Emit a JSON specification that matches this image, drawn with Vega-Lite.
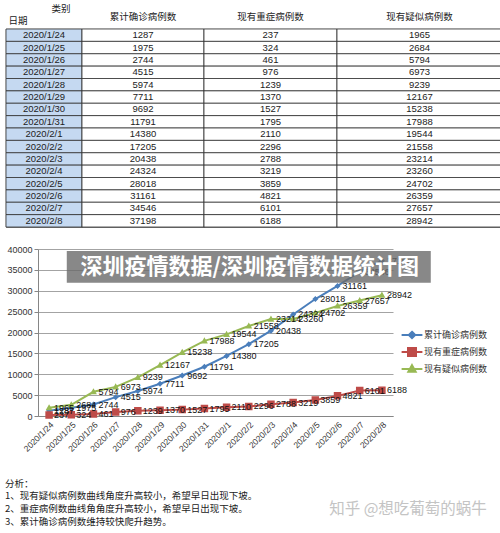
{
  "$schema": "https://vega.github.io/schema/vega-lite/v6.json",
  "padding": {"left": 3, "top": 2, "right": 0, "bottom": 0},
  "background": "white",
  "datasets": {
    "t": [
      {"date": "2020/1/24", "累计确诊病例数": 1287, "现有重症病例数": 237, "现有疑似病例数": 1965},
      {"date": "2020/1/25", "累计确诊病例数": 1975, "现有重症病例数": 324, "现有疑似病例数": 2684},
      {"date": "2020/1/26", "累计确诊病例数": 2744, "现有重症病例数": 461, "现有疑似病例数": 5794},
      {"date": "2020/1/27", "累计确诊病例数": 4515, "现有重症病例数": 976, "现有疑似病例数": 6973},
      {"date": "2020/1/28", "累计确诊病例数": 5974, "现有重症病例数": 1239, "现有疑似病例数": 9239},
      {"date": "2020/1/29", "累计确诊病例数": 7711, "现有重症病例数": 1370, "现有疑似病例数": 12167},
      {"date": "2020/1/30", "累计确诊病例数": 9692, "现有重症病例数": 1527, "现有疑似病例数": 15238},
      {"date": "2020/1/31", "累计确诊病例数": 11791, "现有重症病例数": 1795, "现有疑似病例数": 17988},
      {"date": "2020/2/1", "累计确诊病例数": 14380, "现有重症病例数": 2110, "现有疑似病例数": 19544},
      {"date": "2020/2/2", "累计确诊病例数": 17205, "现有重症病例数": 2296, "现有疑似病例数": 21558},
      {"date": "2020/2/3", "累计确诊病例数": 20438, "现有重症病例数": 2788, "现有疑似病例数": 23214},
      {"date": "2020/2/4", "累计确诊病例数": 24324, "现有重症病例数": 3219, "现有疑似病例数": 23260},
      {"date": "2020/2/5", "累计确诊病例数": 28018, "现有重症病例数": 3859, "现有疑似病例数": 24702},
      {"date": "2020/2/6", "累计确诊病例数": 31161, "现有重症病例数": 4821, "现有疑似病例数": 26359},
      {"date": "2020/2/7", "累计确诊病例数": 34546, "现有重症病例数": 6101, "现有疑似病例数": 27657},
      {"date": "2020/2/8", "累计确诊病例数": 37198, "现有重症病例数": 6188, "现有疑似病例数": 28942}
    ]
  },
  "title": {
    "text": "知乎 @想吃葡萄的蜗牛",
    "orient": "bottom",
    "anchor": "end",
    "offset": -24,
    "dx": -16,
    "fontSize": 15.5,
    "fontWeight": "normal",
    "color": "#c4c4c4",
    "font": "Noto Sans CJK SC"
  },
  "spacing": 17,
  "resolve": {
    "scale": {"color": "independent", "shape": "independent"},
    "legend": {"color": "independent", "shape": "independent"}
  },
  "vconcat": [
    {
      "spacing": 0,
      "vconcat": [
        {
          "spacing": 0,
          "bounds": "flush",
          "hconcat": [
            {
              "width": 76, "height": 26,
              "layer": [
                {"data": {"values": [{"t": "类别"}]}, "mark": {"type": "text", "dx": 17, "dy": -6, "font": "Noto Sans CJK SC", "fontSize": 9.5}, "encoding": {"text": {"field": "t"}}},
                {"data": {"values": [{"t": "日期"}]}, "mark": {"type": "text", "dx": -26, "dy": 6, "font": "Noto Sans CJK SC", "fontSize": 9.5}, "encoding": {"text": {"field": "t"}}}
              ]
            },
            {
              "width": 122, "height": 26,
              "data": {"values": [{"t": "累计确诊病例数"}]},
              "mark": {"type": "text", "font": "Noto Sans CJK SC", "fontSize": 9.5, "dy": 2},
              "encoding": {"text": {"field": "t"}}
            },
            {
              "width": 133, "height": 26,
              "data": {"values": [{"t": "现有重症病例数"}]},
              "mark": {"type": "text", "font": "Noto Sans CJK SC", "fontSize": 9.5, "dy": 2},
              "encoding": {"text": {"field": "t"}}
            },
            {
              "width": 165, "height": 26,
              "data": {"values": [{"t": "现有疑似病例数"}]},
              "mark": {"type": "text", "font": "Noto Sans CJK SC", "fontSize": 9.5, "dy": 2},
              "encoding": {"text": {"field": "t"}}
            }
          ]
        },
        {
          "spacing": 0,
          "bounds": "flush",
          "hconcat": [
            {
              "width": 76, "height": 198,
              "data": {"name": "t"},
              "encoding": {"y": {"field": "date", "type": "nominal", "sort": null, "axis": null, "scale": {"paddingInner": 0, "paddingOuter": 0}}},
              "layer": [
                {"mark": {"type": "rect", "fill": "#c5d9f1", "stroke": "#333", "strokeWidth": 0.8}},
                {"mark": {"type": "text"}, "encoding": {"text": {"field": "date", "type": "nominal"}}}
              ]
            },
            {
              "width": 122, "height": 198,
              "data": {"name": "t"},
              "encoding": {"y": {"field": "date", "type": "nominal", "sort": null, "axis": null, "scale": {"paddingInner": 0, "paddingOuter": 0}}},
              "layer": [
                {"mark": {"type": "rect", "fill": "white", "stroke": "#333", "strokeWidth": 0.8}},
                {"mark": {"type": "text"}, "encoding": {"text": {"field": "累计确诊病例数", "type": "nominal"}}}
              ]
            },
            {
              "width": 133, "height": 198,
              "data": {"name": "t"},
              "encoding": {"y": {"field": "date", "type": "nominal", "sort": null, "axis": null, "scale": {"paddingInner": 0, "paddingOuter": 0}}},
              "layer": [
                {"mark": {"type": "rect", "fill": "white", "stroke": "#333", "strokeWidth": 0.8}},
                {"mark": {"type": "text"}, "encoding": {"text": {"field": "现有重症病例数", "type": "nominal"}}}
              ]
            },
            {
              "width": 165, "height": 198,
              "data": {"name": "t"},
              "encoding": {"y": {"field": "date", "type": "nominal", "sort": null, "axis": null, "scale": {"paddingInner": 0, "paddingOuter": 0}}},
              "layer": [
                {"mark": {"type": "rect", "fill": "white", "stroke": "#333", "strokeWidth": 0.8}},
                {"mark": {"type": "text"}, "encoding": {"text": {"field": "现有疑似病例数", "type": "nominal"}}}
              ]
            }
          ]
        }
      ]
    },
    {
      "spacing": -6,
      "resolve": {
        "scale": {"color": "independent", "shape": "independent"},
        "legend": {"color": "independent", "shape": "independent"}
      },
      "hconcat": [
        {
          "width": 1, "height": 10,
          "view": {"stroke": null},
          "data": {"values": [{}]},
          "mark": {"type": "point", "opacity": 0}
        },
        {
          "width": 355, "height": 167,
          "view": {"stroke": null},
          "title": {
            "text": ["分析：", "1、现有疑似病例数曲线角度升高较小，希望早日出现下坡。", "2、重症病例数曲线角角度升高较小，希望早日出现下坡。", "3、累计确诊病例数维持较快爬升趋势。"],
            "orient": "bottom",
            "anchor": "start",
            "frame": "bounds",
            "offset": 26,
            "dx": -2,
            "fontSize": 9.5,
            "lineHeight": 12.7,
            "fontWeight": "normal",
            "font": "Noto Sans CJK SC",
            "color": "#222"
          },
          "layer": [
            {
              "data": {"name": "t"},
              "transform": [{"fold": ["累计确诊病例数", "现有重症病例数", "现有疑似病例数"], "as": ["series", "value"]}],
              "encoding": {
                "x": {
                  "field": "date", "type": "nominal", "sort": null,
                  "scale": {"paddingInner": 0, "paddingOuter": 0},
                  "axis": {"title": null, "labelAngle": -45, "labelFontSize": 8.5, "labelColor": "#333", "ticks": false, "domainColor": "#868686", "labelPadding": 4, "grid": false}
                },
                "y": {
                  "field": "value", "type": "quantitative",
                  "scale": {"domain": [0, 40000], "nice": false},
                  "axis": {"title": null, "values": [0, 5000, 10000, 15000, 20000, 25000, 30000, 35000, 40000], "format": "d", "labelFontSize": 9, "labelColor": "#333", "tickSize": 4, "tickColor": "#868686", "domainColor": "#868686", "gridColor": "#8c8c8c", "gridWidth": 0.8, "labelPadding": 2}
                }
              },
              "layer": [
                {
                  "mark": {"type": "line", "strokeWidth": 2},
                  "encoding": {
                    "color": {"field": "series", "type": "nominal",
                      "scale": {"domain": ["累计确诊病例数", "现有重症病例数", "现有疑似病例数"], "range": ["#4a7ebb", "#be4b48", "#98b954"]},
                      "legend": {"title": null, "orient": "none", "legendX": 365, "legendY": 77, "symbolSize": 256, "symbolStrokeWidth": 2,
                        "labelFontSize": 9, "labelFont": "Noto Sans CJK SC", "labelColor": "#333", "rowPadding": 0, "padding": 0, "labelOffset": 3}}
                  }
                },
                {
                  "mark": {"type": "point", "filled": true, "opacity": 1, "size": 225},
                  "encoding": {
                    "color": {"field": "series", "type": "nominal",
                      "scale": {"domain": ["累计确诊病例数", "现有重症病例数", "现有疑似病例数"], "range": ["#4a7ebb", "#be4b48", "#98b954"]},
                      "legend": {"title": null, "orient": "none", "legendX": 365, "legendY": 77, "symbolSize": 256, "symbolStrokeWidth": 2,
                        "labelFontSize": 9, "labelFont": "Noto Sans CJK SC", "labelColor": "#333", "rowPadding": 0, "padding": 0, "labelOffset": 3}},
                    "shape": {"field": "series", "type": "nominal",
                      "scale": {"domain": ["累计确诊病例数", "现有重症病例数", "现有疑似病例数"],
                        "range": ["M-1.3,0H1.3M0,-0.4L0.4,0L0,0.4L-0.4,0Z", "M-1.3,0H1.3M-0.5,-0.5H0.5V0.5H-0.5Z", "M-1.3,0H1.3M0,-0.48L0.46,0.34H-0.46Z"]},
                      "legend": {"title": null, "orient": "none", "legendX": 365, "legendY": 77, "symbolSize": 256, "symbolStrokeWidth": 2,
                        "labelFontSize": 9, "labelFont": "Noto Sans CJK SC", "labelColor": "#333", "rowPadding": 0, "padding": 0, "labelOffset": 3}}
                  }
                },
                {
                  "mark": {"type": "text", "align": "left", "baseline": "middle", "dx": 5, "fontSize": 9, "color": "#111"},
                  "encoding": {"text": {"field": "value", "type": "nominal"}}
                }
              ]
            },
            {
              "data": {"values": [{"k": "box"}]},
              "mark": {"type": "rect", "fill": "#6a6a6a", "opacity": 0.8, "width": 364},
              "encoding": {
                "x": {"datum": "2020/2/2", "axis": {"title": null, "labelAngle": -45, "labelFontSize": 8.5, "labelColor": "#333", "ticks": false, "domainColor": "#868686", "labelPadding": 4, "grid": false}},
                "y": {"datum": 39500, "axis": {"title": null, "values": [0, 5000, 10000, 15000, 20000, 25000, 30000, 35000, 40000], "format": "d", "labelFontSize": 9, "labelColor": "#333", "tickSize": 4, "tickColor": "#868686", "domainColor": "#868686", "gridColor": "#8c8c8c", "gridWidth": 0.8, "labelPadding": 2}},
                "y2": {"datum": 31900}
              }
            },
            {
              "data": {"values": [{"t": "深圳疫情数据/深圳疫情数据统计图"}]},
              "mark": {"type": "text", "fontSize": 22, "fontWeight": "bold", "color": "white", "font": "Noto Sans CJK SC", "baseline": "middle", "dx": 1},
              "encoding": {
                "x": {"datum": "2020/2/2", "axis": {"title": null, "labelAngle": -45, "labelFontSize": 8.5, "labelColor": "#333", "ticks": false, "domainColor": "#868686", "labelPadding": 4, "grid": false}},
                "y": {"datum": 35700, "axis": {"title": null, "values": [0, 5000, 10000, 15000, 20000, 25000, 30000, 35000, 40000], "format": "d", "labelFontSize": 9, "labelColor": "#333", "tickSize": 4, "tickColor": "#868686", "domainColor": "#868686", "gridColor": "#8c8c8c", "gridWidth": 0.8, "labelPadding": 2}},
                "text": {"field": "t"}
              }
            }
          ]
        }
      ]
    }
  ],
  "config": {
    "view": {"stroke": "#333", "strokeWidth": 0.8},
    "font": "Liberation Sans",
    "text": {"fontSize": 9.5, "color": "#222", "font": "Liberation Sans"}
  }
}
